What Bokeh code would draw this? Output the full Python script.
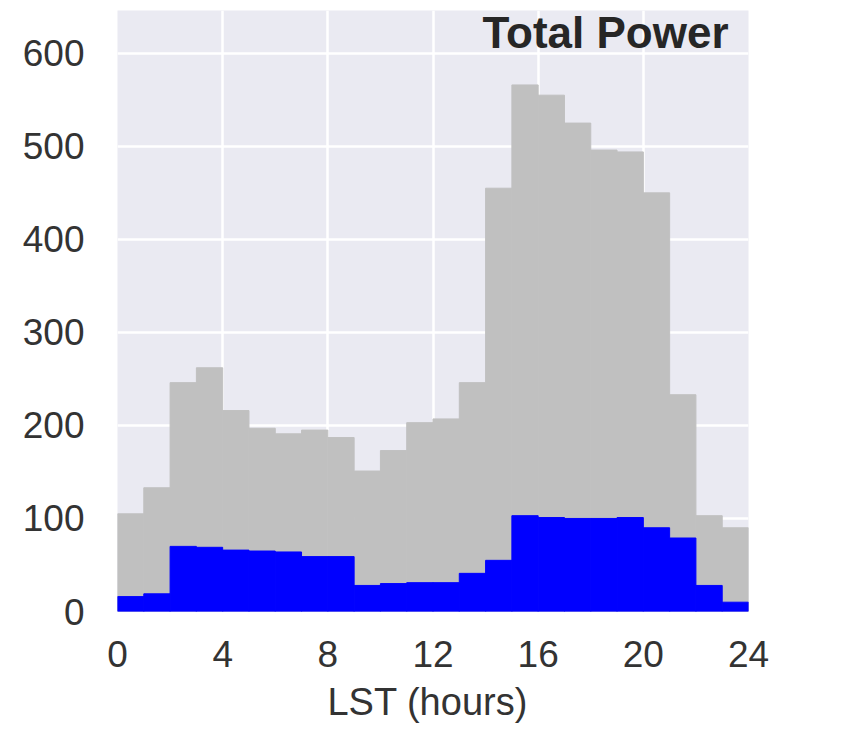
from bokeh.plotting import figure
from bokeh.models import FixedTicker, Range1d, Label, ColumnDataSource
from bokeh.embed import file_html
from bokeh.resources import INLINE

# Hourly bins (LST hours)
bin_left = list(range(0, 24))
bin_right = list(range(1, 25))
total_power = [105, 133, 246, 262, 216, 197, 191, 195, 187, 151, 173, 203,
               207, 246, 455, 566, 555, 525, 496, 494, 450, 233, 103, 90]
component_power = [16, 19, 70, 69, 66, 65, 64, 59, 59, 28, 30, 31,
                   31, 41, 55, 103, 101, 100, 100, 101, 90, 79, 28, 10]
x_ticks = [0, 4, 8, 12, 16, 20, 24]
y_ticks = [0, 100, 200, 300, 400, 500, 600]
title_text = "Total Power"
x_label = "LST  (hours)"

src = ColumnDataSource(dict(left=bin_left, right=bin_right,
                            total=total_power, comp=component_power,
                            zero=[0] * len(bin_left)))

p = figure(width=846, height=730, output_backend="svg", toolbar_location=None,
           x_range=Range1d(0, 24), y_range=Range1d(0, 646),
           min_border_left=117, min_border_right=98,
           min_border_top=10, min_border_bottom=119)

p.background_fill_color = "#EAEAF2"
p.border_fill_color = "white"
p.outline_line_color = None

p.quad(left="left", right="right", bottom="zero", top="total", source=src,
       fill_color="#C0C0C0", line_color="#C0C0C0", line_width=1)
p.quad(left="left", right="right", bottom="zero", top="comp", source=src,
       fill_color="#0000FF", line_color="#0000FF", line_width=1)

for g in (p.xgrid, p.ygrid):
    g.grid_line_color = "white"
    g.grid_line_width = 2.5
    g.level = "underlay"

p.xaxis.ticker = FixedTicker(ticks=x_ticks)
p.yaxis.ticker = FixedTicker(ticks=y_ticks)
p.xgrid.ticker = FixedTicker(ticks=x_ticks)
p.ygrid.ticker = FixedTicker(ticks=y_ticks)

for ax in (p.xaxis, p.yaxis):
    ax.axis_line_color = None
    ax.major_tick_line_color = None
    ax.minor_tick_line_color = None
    ax.major_tick_out = 0
    ax.major_tick_in = 0
    ax.major_label_text_font = "Liberation Sans"
    ax.major_label_text_font_size = "37px"
    ax.major_label_text_color = "#333333"

p.yaxis.major_label_standoff = 33
p.xaxis.major_label_standoff = 29

p.xaxis.axis_label = x_label
p.xaxis.axis_label_text_font = "Liberation Sans"
p.xaxis.axis_label_text_font_size = "38px"
p.xaxis.axis_label_text_font_style = "normal"
p.xaxis.axis_label_text_color = "#333333"
p.xaxis.axis_label_standoff = 11

title = Label(x=23.24, y=622, text=title_text, text_align="right",
              text_baseline="alphabetic", text_font="Liberation Sans",
              text_font_size="44px", text_font_style="bold",
              text_color="#262626")
p.add_layout(title)

open("out.html", "w").write(file_html(p, INLINE))
